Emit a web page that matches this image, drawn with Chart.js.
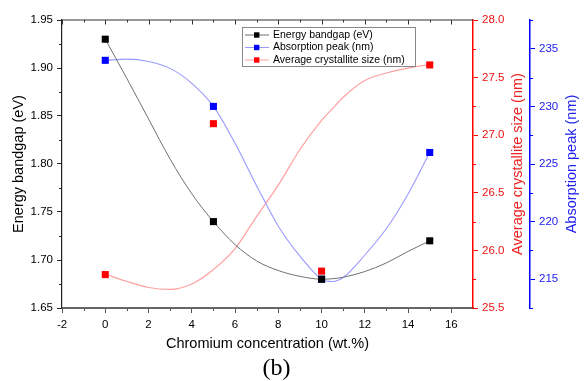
<!DOCTYPE html>
<html><head><meta charset="utf-8">
<script src="https://cdn.jsdelivr.net/npm/chart.js@4/dist/chart.umd.min.js"></script>
<style>html,body{margin:0;padding:0;background:#fff;}#wrap{width:587px;height:381px;position:relative;}</style>
</head><body><div id="wrap"><canvas id="c" width="587" height="381"></canvas></div>
<script>
// measured points
const concentration = [0, 5, 10, 15];
const energyBandgap = [1.93, 1.74, 1.68, 1.72];
const absorptionPeak = [234, 230, 215, 226];
const crystalliteSize = [25.79, 27.10, 25.82, 27.61];

// fitted curves, values
const curveX = [0, 1, 2, 3, 4, 5, 6, 7, 8, 9, 10, 10.5, 11, 12, 13, 14, 15];
const bandgapCurve = [1.930, 1.889, 1.847, 1.805, 1.769, 1.740, 1.716, 1.699, 1.689, 1.683, 1.680, 1.6805, 1.682, 1.688, 1.697, 1.709, 1.720];
const absorptionCurve = [234.0, 234.1, 233.9, 233.3, 232.0, 230.0, 226.8, 223.1, 219.6, 217.0, 215.0, 214.8, 215.15, 217.1, 219.4, 222.4, 226.0];
const crystalliteCurve = [25.795, 25.73, 25.678, 25.661, 25.708, 25.834, 26.016, 26.296, 26.567, 26.876, 27.128, 27.23, 27.33, 27.475, 27.54, 27.583, 27.614];

// tick labels
const xTicks = [-2, 0, 2, 4, 6, 8, 10, 12, 14, 16];
const bandgapTicks = [1.65, 1.70, 1.75, 1.80, 1.85, 1.90, 1.95];
const crystalliteTicks = [25.5, 26.0, 26.5, 27.0, 27.5, 28.0];
const absorptionTicks = [215, 220, 225, 230, 235];

const seriesNames = ['Energy bandgap (eV)', 'Absorption peak (nm)', 'Average crystallite size (nm)'];

const FONT = '"Liberation Sans", Arial, sans-serif';
const RED = '#ff0000', BLUE = '#0000ff';

const pts = (xs, ys) => xs.map((x, i) => ({x: x, y: ys[i]}));

const markerDs = (label, ys, color, axis) => ({
  label: label, data: pts(concentration, ys), yAxisID: axis,
  showLine: false, pointStyle: 'rect', pointRadius: 5, pointHoverRadius: 5,
  backgroundColor: color, borderColor: color, borderWidth: 0
});
const curveDs = (ys, color, axis, w) => ({
  label: '', data: pts(curveX, ys), yAxisID: axis,
  showLine: true, pointRadius: 0, borderColor: color, borderWidth: w,
  cubicInterpolationMode: 'monotone', fill: false
});

const datasets = [
  markerDs(seriesNames[0], energyBandgap, '#000000', 'y'),
  markerDs(seriesNames[1], absorptionPeak, BLUE, 'yBlue'),
  markerDs(seriesNames[2], crystalliteSize, RED, 'yRed'),
  curveDs(bandgapCurve, '#707070', 'y', 1),
  curveDs(absorptionCurve, '#9a9aff', 'yBlue', 1.1),
  curveDs(crystalliteCurve, '#ffa0a0', 'yRed', 1.2)
];
const legendLineColors = ['#707070', '#9a9aff', '#ffa0a0'];

const setTicks = arr => s => { s.ticks = arr.map(v => ({value: v})); };

const decor = {
  id: 'decor',
  afterDraw(chart) {
    const ctx = chart.ctx, a = chart.chartArea, S = chart.scales;
    const sx = S.x, yl = S.y, yr = S.yRed, yb = S.yBlue;
    ctx.save();
    // top frame with inward ticks
    ctx.strokeStyle = '#333'; ctx.lineWidth = 1.2;
    ctx.beginPath(); ctx.moveTo(a.left, a.top); ctx.lineTo(a.right, a.top); ctx.stroke();
    ctx.lineWidth = 1;
    for (let v = -2; v <= 16; v += 1) {
      const px = Math.round(sx.getPixelForValue(v)) + 0.5;
      const len = Math.abs(v % 2) === 1 ? 2.5 : 4.5;
      ctx.beginPath(); ctx.moveTo(px, a.top); ctx.lineTo(px, a.top + len); ctx.stroke();
    }
    // bottom minor ticks
    ctx.strokeStyle = '#555';
    for (let v = -1; v <= 15; v += 2) {
      const px = Math.round(sx.getPixelForValue(v)) + 0.5;
      ctx.beginPath(); ctx.moveTo(px, a.bottom); ctx.lineTo(px, a.bottom + 3); ctx.stroke();
    }
    // left minor ticks
    ctx.strokeStyle = '#222';
    for (let i = 0; i < bandgapTicks.length - 1; i++) {
      const v = (bandgapTicks[i] + bandgapTicks[i + 1]) / 2;
      const py = Math.round(yl.getPixelForValue(v)) + 0.5;
      ctx.beginPath(); ctx.moveTo(a.left, py); ctx.lineTo(a.left - 3, py); ctx.stroke();
    }
    // red minor ticks
    ctx.strokeStyle = RED;
    for (let i = 0; i < crystalliteTicks.length - 1; i++) {
      const v = (crystalliteTicks[i] + crystalliteTicks[i + 1]) / 2;
      const py = Math.round(yr.getPixelForValue(v)) + 0.5;
      ctx.beginPath(); ctx.moveTo(yr.left, py); ctx.lineTo(yr.left + 3, py); ctx.stroke();
    }
    // blue minor ticks
    ctx.strokeStyle = BLUE;
    for (let v = yb.min; v <= yb.max + 0.01; v += 5) {
      const py = Math.round(yb.getPixelForValue(v)) + 0.5;
      ctx.beginPath(); ctx.moveTo(yb.left, py); ctx.lineTo(yb.left + 3, py); ctx.stroke();
    }
    // right axis titles (reading bottom to top)
    const midY = (a.top + a.bottom) / 2;
    ctx.font = '14.5px ' + FONT; ctx.textAlign = 'center'; ctx.textBaseline = 'middle';
    ctx.save(); ctx.translate(yr.left + 45, midY); ctx.rotate(-Math.PI / 2);
    ctx.fillStyle = '#ee2222'; ctx.fillText('Average crystallite size (nm)', 0, 0); ctx.restore();
    ctx.save(); ctx.translate(yb.left + 42, midY); ctx.rotate(-Math.PI / 2);
    ctx.fillStyle = '#2222ee'; ctx.fillText('Absorption peak (nm)', 0, 0); ctx.restore();
    // legend
    const lx = a.left + 180, ly = a.top + 7, lw = 173, lh = 39;
    ctx.fillStyle = '#fff'; ctx.fillRect(lx, ly, lw, lh);
    ctx.strokeStyle = '#888'; ctx.lineWidth = 1;
    ctx.strokeRect(Math.round(lx) + 0.5, Math.round(ly) + 0.5, lw, lh);
    ctx.font = '10.5px ' + FONT; ctx.textAlign = 'left'; ctx.textBaseline = 'middle';
    for (let i = 0; i < 3; i++) {
      const ry = ly + 8 + i * 12.5;
      ctx.strokeStyle = legendLineColors[i]; ctx.lineWidth = 1;
      ctx.beginPath(); ctx.moveTo(lx + 3, ry); ctx.lineTo(lx + 27, ry); ctx.stroke();
      ctx.fillStyle = chart.data.datasets[i].backgroundColor;
      ctx.fillRect(lx + 12, ry - 2.7, 5.4, 5.4);
      ctx.fillStyle = '#000';
      ctx.fillText(chart.data.datasets[i].label, lx + 31, ry);
    }
    // panel label
    ctx.font = '24px "Liberation Serif", "Times New Roman", serif';
    ctx.textAlign = 'center'; ctx.textBaseline = 'middle'; ctx.fillStyle = '#000';
    ctx.fillText('(b)', (a.left + a.right) / 2 + 9, 369);
    ctx.restore();
  }
};

new Chart(document.getElementById('c'), {
  type: 'scatter',
  data: {datasets: datasets},
  options: {
    responsive: false, animation: false,
    layout: {padding: {top: 20, left: 0, right: 0, bottom: 0}},
    plugins: {legend: {display: false}, tooltip: {enabled: false}},
    scales: {
      x: {
        type: 'linear', position: 'bottom', min: -2, max: 17,
        afterBuildTicks: setTicks(xTicks),
        afterFit: s => { s.height = 73; },
        ticks: {color: '#000', font: {family: FONT, size: 11.5}, padding: 5, callback: v => String(v)},
        grid: {display: true, drawOnChartArea: false, tickLength: 5, color: '#555', lineWidth: 1},
        border: {display: true, color: '#666', width: 2},
        title: {display: true, text: 'Chromium concentration (wt.%)', color: '#000', font: {family: FONT, size: 14.5}, padding: {top: 0, bottom: 28}}
      },
      y: {
        type: 'linear', position: 'left', min: 1.65, max: 1.95,
        afterBuildTicks: setTicks(bandgapTicks),
        afterFit: s => { s.width = 62; },
        ticks: {color: '#000', font: {family: FONT, size: 11.5}, padding: 4, callback: v => v.toFixed(2)},
        grid: {display: true, drawOnChartArea: false, tickLength: 5, color: '#222', lineWidth: 1},
        border: {display: true, color: '#222', width: 1.2},
        title: {display: true, text: 'Energy bandgap (eV)', color: '#000', font: {family: FONT, size: 14.5}, padding: {top: 10, bottom: 0}}
      },
      yRed: {
        type: 'linear', position: 'right', min: 25.5, max: 28,
        afterBuildTicks: setTicks(crystalliteTicks),
        afterFit: s => { s.width = 57; },
        ticks: {color: '#ee1111', font: {family: FONT, size: 11.5}, padding: 4, callback: v => v.toFixed(1)},
        grid: {display: true, drawOnChartArea: false, tickLength: 5, color: RED, lineWidth: 1},
        border: {display: true, color: RED, width: 1.5}
      },
      yBlue: {
        type: 'linear', position: 'right', min: 212.5, max: 237.5,
        afterBuildTicks: setTicks(absorptionTicks),
        afterFit: s => { s.width = 57; },
        ticks: {color: '#1a1aee', font: {family: FONT, size: 11.5}, padding: 4, callback: v => String(v)},
        grid: {display: true, drawOnChartArea: false, tickLength: 5, color: BLUE, lineWidth: 1},
        border: {display: true, color: BLUE, width: 1.5}
      }
    }
  },
  plugins: [decor]
});
</script></body></html>
